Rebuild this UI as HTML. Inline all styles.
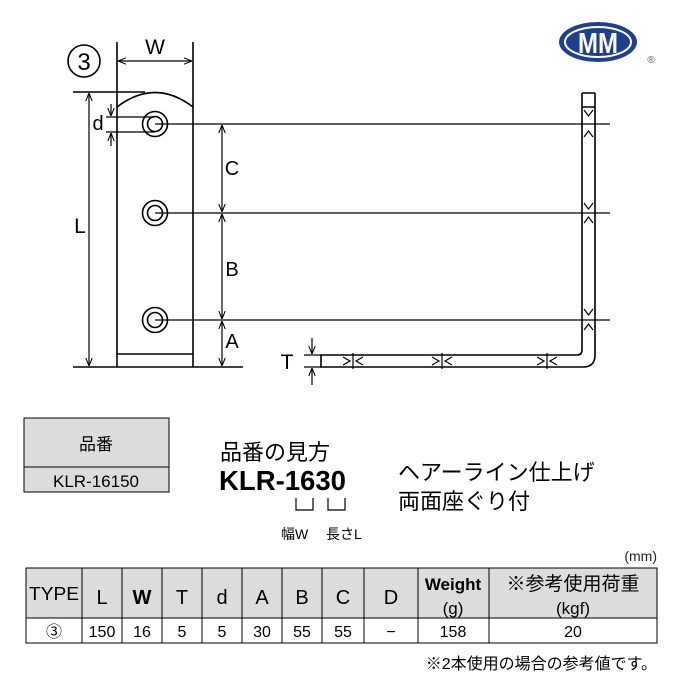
<!DOCTYPE html>
<html><head><meta charset="utf-8"><style>
html,body{margin:0;padding:0;background:#fff;}
svg{display:block}
text{font-family:"Liberation Sans","Noto Sans CJK JP",sans-serif;fill:#000}
</style></head><body>
<svg width="680" height="680" viewBox="0 0 680 680" xmlns="http://www.w3.org/2000/svg">
<defs>
<marker id="a" viewBox="0 0 10 10" refX="10" refY="5" markerWidth="8" markerHeight="8" orient="auto-start-reverse" markerUnits="userSpaceOnUse"><path d="M0,1 L10,5 L0,9" fill="none" stroke="#000" stroke-width="1.3"/></marker>
</defs>
<g stroke="#000" stroke-width="1.6" fill="none">
<circle cx="84" cy="61" r="16"/>
<line x1="117" y1="42" x2="117" y2="367"/>
<line x1="193" y1="42" x2="193" y2="367"/>
<path d="M117,107 Q155,78 193,107"/>
<line x1="117" y1="354" x2="193" y2="354"/>
<line x1="73" y1="92" x2="145" y2="92"/>
<line x1="73" y1="367" x2="243" y2="367"/>
<line x1="118" y1="61" x2="192" y2="61" marker-start="url(#a)" marker-end="url(#a)" stroke-width="1.2"/>
<line x1="89" y1="93" x2="89" y2="366" marker-start="url(#a)" marker-end="url(#a)" stroke-width="1.2"/>
<line x1="106" y1="117" x2="155" y2="117" stroke-width="1.2"/>
<line x1="106" y1="132" x2="155" y2="132" stroke-width="1.2"/>
<line x1="111" y1="104" x2="111" y2="116" marker-end="url(#a)" stroke-width="1.2"/>
<line x1="111" y1="146" x2="111" y2="133" marker-end="url(#a)" stroke-width="1.2"/>
<circle cx="155" cy="124" r="12.5"/><circle cx="155" cy="124" r="7.5"/>
<circle cx="155" cy="213" r="12.5"/><circle cx="155" cy="213" r="7.5"/>
<circle cx="155" cy="320" r="12.5"/><circle cx="155" cy="320" r="7.5"/>
<line x1="155" y1="124" x2="610" y2="124" stroke-width="1.3"/>
<line x1="155" y1="213" x2="610" y2="213" stroke-width="1.3"/>
<line x1="155" y1="320" x2="610" y2="320" stroke-width="1.3"/>
<line x1="222" y1="125" x2="222" y2="212" marker-start="url(#a)" marker-end="url(#a)" stroke-width="1.2"/>
<line x1="222" y1="214" x2="222" y2="319" marker-start="url(#a)" marker-end="url(#a)" stroke-width="1.2"/>
<line x1="222" y1="321" x2="222" y2="366" marker-start="url(#a)" marker-end="url(#a)" stroke-width="1.2"/>
<path d="M582,93 L595,93 M582,107 L595,107"/>
<path d="M582,93 L582,350 Q582,355 577,355 L321,355 L321,367 L583,367 Q595,367 595,355 L595,93"/>
<line x1="304" y1="355" x2="321" y2="355" stroke-width="1.2"/>
<line x1="304" y1="367" x2="321" y2="367" stroke-width="1.2"/>
<line x1="312" y1="338" x2="312" y2="354" marker-end="url(#a)" stroke-width="1.2"/>
<line x1="312" y1="385" x2="312" y2="368" marker-end="url(#a)" stroke-width="1.2"/>
<g stroke-width="1.2">
<line x1="353" y1="353" x2="353" y2="369"/><path d="M343,357 L350,361 L343,365 M363,357 L356,361 L363,365"/>
<line x1="442" y1="353" x2="442" y2="369"/><path d="M432,357 L439,361 L432,365 M452,357 L445,361 L452,365"/>
<line x1="547" y1="353" x2="547" y2="369"/><path d="M537,357 L544,361 L537,365 M557,357 L550,361 L557,365"/>
<path d="M584,110 L588.5,116 L593,110 M584,137 L588.5,131 L593,137"/>
<path d="M584,203 L588.5,209 L593,203 M584,223 L588.5,217 L593,223"/>
<path d="M584,309 L588.5,315 L593,309 M584,330 L588.5,324 L593,330"/>
</g>
</g>
<text x="84" y="70" font-size="24" text-anchor="middle">3</text>
<text x="155" y="54" font-size="21" text-anchor="middle">W</text>
<text x="80" y="233" font-size="21" text-anchor="middle">L</text>
<text x="98" y="130" font-size="20" text-anchor="middle">d</text>
<text x="232" y="175" font-size="20" text-anchor="middle">C</text>
<text x="232" y="276" font-size="20" text-anchor="middle">B</text>
<text x="232" y="348" font-size="20" text-anchor="middle">A</text>
<text x="287" y="369" font-size="21" text-anchor="middle">T</text>
<!-- logo -->
<ellipse cx="598" cy="42" rx="39" ry="20" fill="#1f3f8f"/>
<ellipse cx="598" cy="42" rx="33" ry="15" fill="none" stroke="#fff" stroke-width="2"/>
<text x="598" y="53" font-size="29" font-weight="bold" text-anchor="middle" style="fill:#fff" textLength="40" lengthAdjust="spacingAndGlyphs">MM</text>
<text x="651" y="63" font-size="10" text-anchor="middle" style="fill:#555">®</text>
<!-- 品番 box -->
<rect x="24" y="418" width="145" height="74" fill="#dcdcdc" stroke="#000" stroke-width="1"/>
<line x1="24" y1="467" x2="169" y2="467" stroke="#000" stroke-width="1"/>
<text x="96" y="450" font-size="17" text-anchor="middle">品番</text>
<text x="96" y="487" font-size="17" text-anchor="middle">KLR-16150</text>
<text x="220" y="460" font-size="22">品番の見方</text>
<text x="219" y="490" font-size="28" font-weight="bold" textLength="127" lengthAdjust="spacingAndGlyphs">KLR-1630</text>
<path d="M296,498 V510 H313 V498 M328,498 V510 H345 V498" stroke="#000" stroke-width="1.2" fill="none"/>
<text x="281" y="539" font-size="14">幅W</text>
<text x="326" y="539" font-size="14">長さL</text>
<text x="398" y="480" font-size="22">ヘアーライン仕上げ</text>
<text x="398" y="509" font-size="22">両面座ぐり付</text>
<!-- table -->
<text x="657" y="561" font-size="14" text-anchor="end" style="fill:#222">(mm)</text>
<rect x="26" y="568" width="631" height="50" fill="#dcdcdc"/>
<g stroke="#000" stroke-width="1" fill="none">
<rect x="26" y="568" width="631" height="75"/>
<line x1="26" y1="618" x2="657" y2="618"/>
<line x1="82" y1="568" x2="82" y2="643"/><line x1="122" y1="568" x2="122" y2="643"/>
<line x1="162" y1="568" x2="162" y2="643"/><line x1="202" y1="568" x2="202" y2="643"/>
<line x1="242" y1="568" x2="242" y2="643"/><line x1="282" y1="568" x2="282" y2="643"/>
<line x1="322" y1="568" x2="322" y2="643"/><line x1="364" y1="568" x2="364" y2="643"/>
<line x1="418" y1="568" x2="418" y2="643"/><line x1="489" y1="568" x2="489" y2="643"/>
</g>
<g font-size="20" text-anchor="middle">
<text x="54" y="600" font-size="18" textLength="50" lengthAdjust="spacingAndGlyphs">TYPE</text>
<text x="102" y="604">L</text><text x="142" y="604" font-weight="bold">W</text><text x="182" y="604">T</text>
<text x="222" y="604">d</text><text x="262" y="604">A</text><text x="302" y="604">B</text>
<text x="343" y="604">C</text><text x="391" y="604">D</text>
<text x="453" y="590" font-weight="bold" font-size="17">Weight</text>
<text x="453" y="614" font-size="17">(g)</text>
<text x="573" y="590" font-size="19">※参考使用荷重</text>
<text x="573" y="614" font-size="17">(kgf)</text>
</g>
<g font-size="16" text-anchor="middle">
<text x="54" y="637">③</text><text x="102" y="637">150</text><text x="142" y="637">16</text>
<text x="182" y="637">5</text><text x="222" y="637">5</text><text x="262" y="637">30</text>
<text x="302" y="637">55</text><text x="343" y="637">55</text><text x="391" y="637">−</text>
<text x="453" y="637">158</text><text x="573" y="637">20</text>
</g>
<text x="657" y="669" font-size="16" text-anchor="end">※2本使用の場合の参考値です。</text>
</svg>
</body></html>
